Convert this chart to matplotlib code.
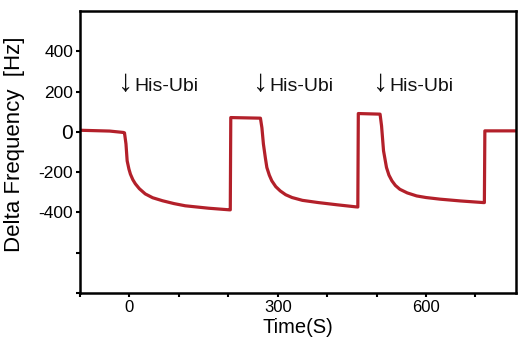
import matplotlib
matplotlib.use("Agg")
import matplotlib.pyplot as plt

plt.rcParams['font.family'] = ['Liberation Sans', 'DejaVu Sans']

# Sensor trace: time (s) and frequency shift (Hz)
time_s = [-100, -40, -12, -10, -7, -4.6, -1, 2, 7, 12, 20, 32, 47, 67, 90, 113, 160, 202, 204,
          205, 265, 268, 271, 275, 278, 283, 288, 296, 305, 316, 329, 350, 382, 420, 457, 462,
          463, 507, 510, 514, 520, 525, 531, 538, 547, 562, 581, 600, 628, 670, 716, 718,
          719, 782]
delta_hz = [8, 4, -3, -5, -60, -144, -185, -210, -238, -258, -282, -308, -327, -342, -356, -367, -379, -387, -387,
            71, 68, 20, -60, -130, -177, -215, -243, -272, -293, -312, -326, -340, -351, -362, -372, -373,
            91, 88, 30, -94, -177, -215, -243, -266, -285, -303, -318, -326, -334, -343, -351, -351,
            5, 5]

# Injection markers: arrow position and label position (time), shared baseline (Hz)
arrow_t = [-24, 250, 493]
label_t = [9, 284, 526]
marker_base = 202
marker_text = "His-Ubi"

x_major = [0, 300, 600]
x_all = [-100, 0, 100, 200, 300, 400, 500, 600, 700]
y_all = [-800, -600, -400, -200, 0, 200, 400]
y_labels = ['', '', '-400', '-200', '0', '200', '400']

fig = plt.figure(figsize=(5.26, 3.4), dpi=100)
ax = fig.add_axes([0.1521, 0.1382, 0.8289, 0.8294])

ax.plot(time_s, delta_hz, color='#b3202a', lw=2.3, solid_joinstyle='round')

for ta, tl in zip(arrow_t, label_t):
    ax.text(ta, marker_base, "\u2193", fontsize=22, va='baseline', ha='left', color='#111111')
    ax.text(tl, marker_base, marker_text, fontsize=14, va='baseline', ha='left', color='#111111')

ax.set_xlim(-100, 782)
ax.set_ylim(-800, 600)

ax.set_xticks(x_all)
ax.set_xticklabels([str(v) if v in x_major else '' for v in x_all], fontsize=12)
ax.set_yticks(y_all)
ax.set_yticklabels(y_labels, fontsize=12.5)
for lab in ax.get_yticklabels():
    if lab.get_text() == '0':
        lab.set_fontsize(15)

ax.tick_params(direction='out', length=3, width=1.5, pad=2, colors='black')
for s in ax.spines.values():
    s.set_linewidth(1.8)
    s.set_color('black')

ax.set_xlabel('Time(S)', fontsize=14.5, labelpad=2)
ax.set_ylabel('Delta Frequency  [Hz]', fontsize=16)
ax.yaxis.set_label_coords(-0.126, 0.528)

fig.savefig('out.png', dpi=100)
